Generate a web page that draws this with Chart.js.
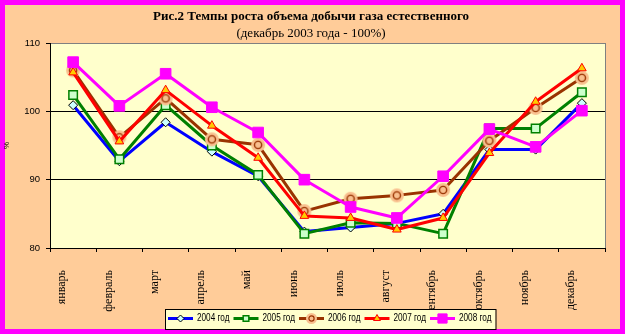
<!DOCTYPE html>
<html>
<head>
<meta charset="utf-8">
<title>Темпы роста объема добычи газа</title>
<script src="https://cdn.jsdelivr.net/npm/chart.js@4/dist/chart.umd.min.js"></script>
<style>
    html, body { margin: 0; padding: 0; background: #ff00ff; }
    #gasChart { display: block; }
</style>
</head>
<body>
<canvas id="gasChart" width="625" height="334"></canvas>
<script>
// месяцы и значения, % к декабрю 2003 года
const months = ["январь", "февраль", "март", "апрель", "май", "июнь",
    "июль", "август", "сентябрь", "октябрь", "ноябрь", "декабрь"];
const yearLabels = ["2004 год", "2005 год", "2006 год", "2007 год", "2008 год"];
const y2004 = [100.9, 92.7, 98.4, 94.1, 90.5, 82.4, 83.0, 83.6, 85.0, 94.4, 94.4, 101.2];
const y2005 = [102.4, 93.0, 100.9, 95.0, 90.7, 82.1, 83.7, 83.6, 82.1, 97.5, 97.5, 102.8];
const y2006 = [106.0, 96.2, 101.9, 95.9, 95.1, 85.4, 87.2, 87.7, 88.5, 95.7, 100.5, 104.9];
const y2007 = [105.7, 95.6, 103.1, 97.9, 93.2, 84.7, 84.4, 82.7, 84.4, 93.9, 101.4, 106.3];
const y2008 = [107.2, 100.8, 105.5, 100.6, 96.9, 90.0, 86.0, 84.4, 90.5, 97.4, 94.8, 100.1];
const yTicks = [80, 90, 100, 110];

const PEACH = "#ffcc99";
const PLOT_BG = "#ffffcc";

// кружок с заливкой-ореолом для 2006 года
function makeHalo(outer, inner, lw) {
    const size = Math.ceil(outer * 2 + 2);
    const c = document.createElement("canvas");
    c.width = size;
    c.height = size;
    const g = c.getContext("2d");
    g.fillStyle = "#f9c08f";
    g.beginPath();
    g.arc(size / 2, size / 2, outer, 0, Math.PI * 2);
    g.fill();
    g.strokeStyle = "#993300";
    g.lineWidth = lw;
    g.beginPath();
    g.arc(size / 2, size / 2, inner, 0, Math.PI * 2);
    g.stroke();
    return c;
}

const haloPoint = makeHalo(7, 3.6, 1.4);
const haloLegend = makeHalo(5.5, 2.6, 1.2);

const series = [
    { data: y2004, color: "#0000ff", style: "rectRot", radius: 4.5, fill: "#ccffff", edge: "#000000", edgeWidth: 1, legendRadius: 3.5 },
    { data: y2005, color: "#008000", style: "rect", radius: 6, fill: "#ccffcc", edge: "#008000", edgeWidth: 1.5, legendRadius: 4 },
    { data: y2006, color: "#993300", style: haloPoint, radius: 7, fill: "#f9c08f", edge: "#993300", edgeWidth: 1, legendStyle: haloLegend },
    { data: y2007, color: "#ff0000", style: "triangle", radius: 5, fill: "#ffcc00", edge: "#ff0000", edgeWidth: 1, legendRadius: 4 },
    { data: y2008, color: "#ff00ff", style: "rect", radius: 7.5, fill: "#ff00ff", edge: "#ff00ff", edgeWidth: 1, legendRadius: 6.5 }
];

const datasets = series.map((s, i) => ({
    label: yearLabels[i],
    data: s.data,
    borderColor: s.color,
    backgroundColor: s.color,
    borderWidth: 3,
    borderJoinStyle: "round",
    tension: 0,
    pointStyle: s.style,
    pointRadius: s.radius,
    pointBackgroundColor: s.fill,
    pointBorderColor: s.edge,
    pointBorderWidth: s.edgeWidth,
    // 2008 год рисуется поверх остальных
    order: series.length - i
}));

const framePlugin = {
    id: "frame",
    beforeDraw(chart) {
        const { ctx, width, height, chartArea } = chart;
        ctx.save();
        ctx.fillStyle = "#ff00ff";
        ctx.fillRect(0, 0, width, height);
        ctx.fillStyle = PEACH;
        ctx.fillRect(5, 5, width - 10, height - 10);
        ctx.fillStyle = PLOT_BG;
        ctx.fillRect(chartArea.left, chartArea.top,
            chartArea.right - chartArea.left, chartArea.bottom - chartArea.top);
        ctx.restore();
    },
    beforeDatasetsDraw(chart) {
        const { ctx, chartArea } = chart;
        ctx.save();
        ctx.strokeStyle = "#808080";
        ctx.lineWidth = 1;
        ctx.beginPath();
        ctx.moveTo(chartArea.right + 0.5, chartArea.top);
        ctx.lineTo(chartArea.right + 0.5, chartArea.bottom);
        ctx.stroke();
        ctx.restore();
    },
    afterDraw(chart) {
        const ctx = chart.ctx;
        ctx.save();
        ctx.fillStyle = "#000";
        ctx.textAlign = "center";
        ctx.textBaseline = "middle";
        ctx.font = 'bold 13px "Liberation Serif"';
        ctx.fillText("Рис.2 Темпы роста объема добычи газа естественного", 311, 17);
        ctx.font = '13px "Liberation Serif"';
        ctx.fillText("(декабрь 2003 года - 100%)", 311, 34);

        // легенда поверх подписей месяцев
        const left = 165, top = 309, step = 65.5, lineLen = 25;
        const cy = top + 9.5;
        ctx.fillStyle = PLOT_BG;
        ctx.fillRect(left, top, 3 + step * series.length, 20);
        ctx.strokeStyle = "#000";
        ctx.lineWidth = 1;
        ctx.strokeRect(left + 0.5, top + 0.5, 3 + step * series.length, 20);

        series.forEach((s, i) => {
            const x0 = left + 3 + i * step;
            ctx.strokeStyle = s.color;
            ctx.lineWidth = 3;
            ctx.beginPath();
            ctx.moveTo(x0, cy);
            ctx.lineTo(x0 + lineLen, cy);
            ctx.stroke();

            ctx.fillStyle = s.fill;
            ctx.strokeStyle = s.edge;
            ctx.lineWidth = s.edgeWidth;
            Chart.helpers.drawPoint(ctx, {
                pointStyle: s.legendStyle || s.style,
                radius: s.legendRadius || 5,
                rotation: 0,
                borderWidth: s.edgeWidth
            }, x0 + lineLen / 2, cy);

            ctx.save();
            ctx.fillStyle = "#000";
            ctx.textAlign = "left";
            ctx.textBaseline = "middle";
            ctx.font = '10px "Liberation Sans"';
            ctx.translate(x0 + lineLen + 4, cy);
            ctx.scale(0.82, 1);
            ctx.fillText(yearLabels[i], 0, 0);
            ctx.restore();
        });
        ctx.restore();
    }
};

const ctx = document.getElementById("gasChart");

new Chart(ctx, {
    type: "line",
    data: {
        labels: months,
        datasets: datasets
    },
    options: {
        responsive: false,
        animation: false,
        layout: {
            padding: { left: 0, right: 20, top: 43, bottom: 5 }
        },
        plugins: {
            legend: { display: false },
            tooltip: { enabled: false }
        },
        scales: {
            x: {
                offset: true,
                grid: { offset: true, drawOnChartArea: false, tickLength: 4, color: "#000" },
                border: { color: "#000", width: 1 },
                ticks: {
                    autoSkip: false,
                    minRotation: 90,
                    maxRotation: 90,
                    labelOffset: -11,
                    padding: 18,
                    color: "#000",
                    font: { family: "Liberation Serif", size: 12 }
                },
                afterFit(scale) {
                    scale.height = 81;
                }
            },
            y: {
                min: yTicks[0],
                max: yTicks[yTicks.length - 1],
                afterBuildTicks(scale) {
                    scale.ticks = yTicks.map(v => ({ value: v }));
                },
                grid: {
                    color: c => (c.tick && c.tick.value === 110 ? "#808080" : "#000"),
                    tickColor: "#000",
                    tickLength: 4
                },
                border: { color: "#000", width: 1 },
                ticks: {
                    padding: 6,
                    color: "#000",
                    font: { family: "Liberation Sans", size: 9.5 }
                },
                title: {
                    display: true,
                    text: "%",
                    color: "#000",
                    font: { family: "Liberation Sans", size: 8 },
                    padding: { top: 2, bottom: 0 }
                },
                afterFit(scale) {
                    scale.width = 50;
                }
            }
        }
    },
    plugins: [framePlugin]
});
</script>
</body>
</html>
